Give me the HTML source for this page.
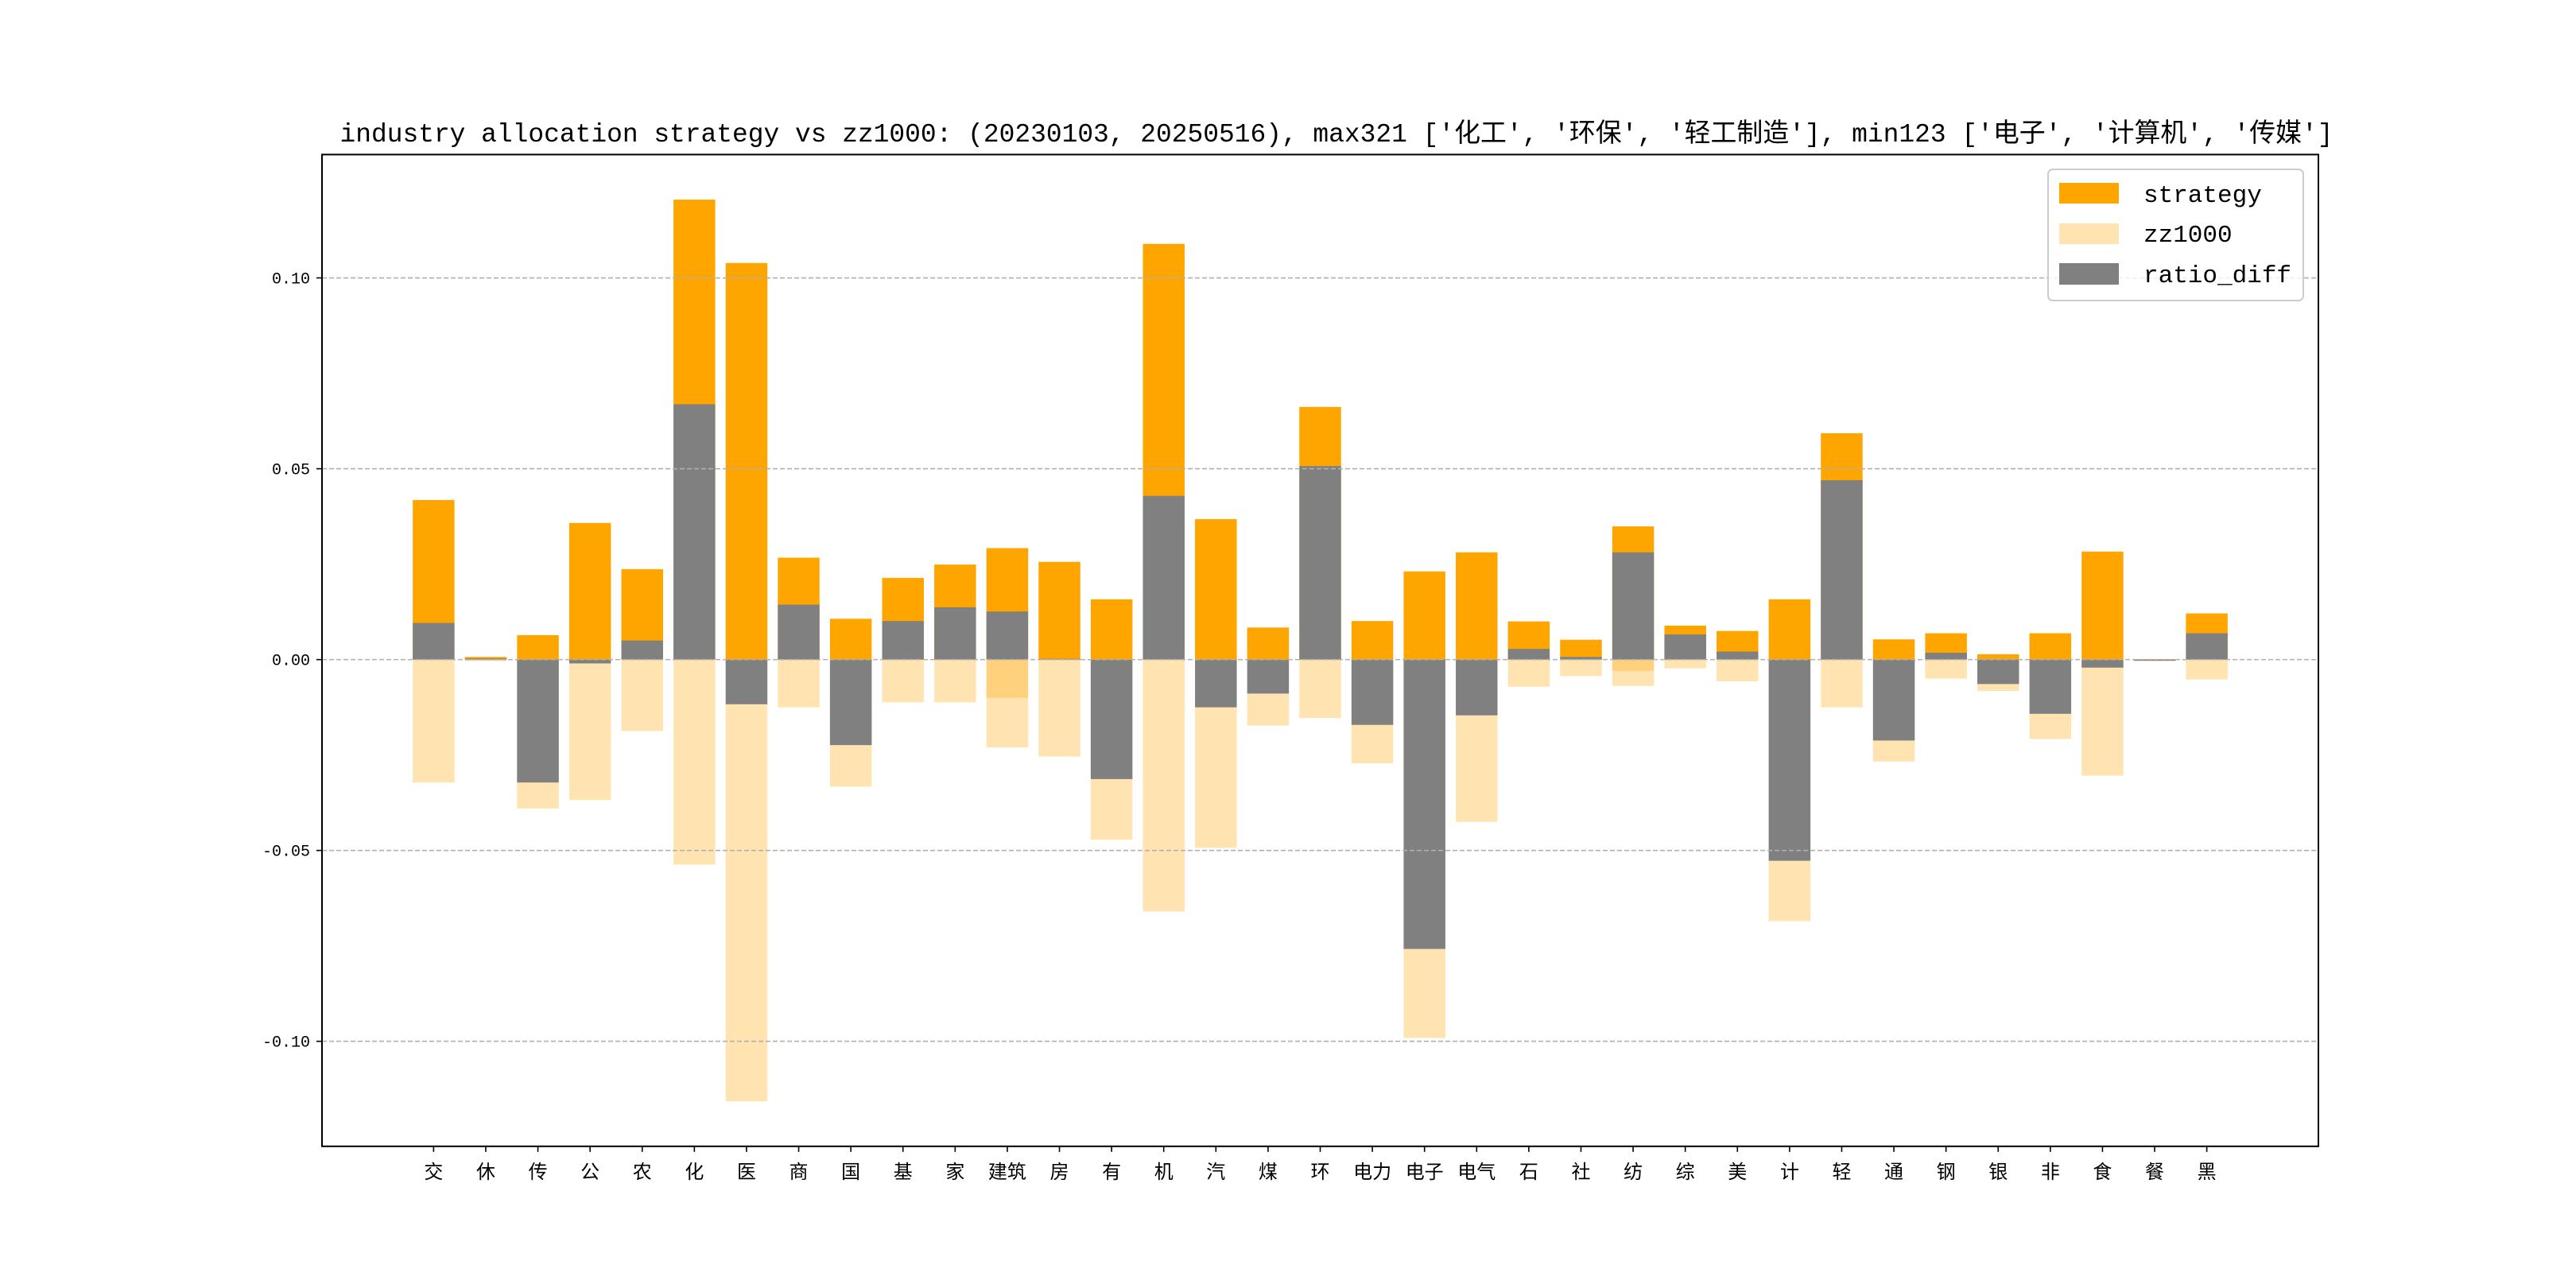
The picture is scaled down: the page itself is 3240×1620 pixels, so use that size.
<!DOCTYPE html>
<html><head><meta charset="utf-8"><style>
html,body{margin:0;padding:0;background:#fff;}
svg{display:block;}
</style></head><body>
<svg id="chart" width="3240" height="1620" viewBox="0 0 3240 1620" xmlns="http://www.w3.org/2000/svg">
<rect x="0" y="0" width="3240" height="1620" fill="#fff"/>
<text x="1681" y="178" text-anchor="middle" font-family="'Liberation Mono','Noto Sans CJK SC',monospace" font-size="33" textLength="2507" lengthAdjust="spacingAndGlyphs" fill="#000">industry allocation strategy vs zz1000: (20230103, 20250516), max321 ['化工', '环保', '轻工制造'], min123 ['电子', '计算机', '传媒']</text>
<g id="grid"></g>
<g id="bars"></g>
<g id="gridTop"></g>
<rect x="405" y="194.4" width="2511" height="1247.4" fill="none" stroke="#000" stroke-width="2"/>
<g id="axes"></g>
<g>
<rect x="2576" y="213" width="321" height="165" rx="6" fill="#fff" fill-opacity="0.8" stroke="#ccc" stroke-width="2"/>
<rect x="2590" y="230" width="75" height="26" fill="#FFA500"/>
<text x="2696" y="254" font-family="'Liberation Mono',monospace" font-size="31" fill="#000">strategy</text>
<rect x="2590" y="281" width="75" height="26" fill="#FFA500" fill-opacity="0.3"/>
<text x="2696" y="304" font-family="'Liberation Mono',monospace" font-size="31" fill="#000">zz1000</text>
<rect x="2590" y="331" width="75" height="27" fill="#808080"/>
<text x="2696" y="355" font-family="'Liberation Mono',monospace" font-size="31" fill="#000">ratio_diff</text>
</g>
</svg>
<script>
const categories = ["交","休","传","公","农","化","医","商","国","基","家","建筑","房","有","机","汽","煤","环","电力","电子","电气","石","社","纺","综","美","计","轻","通","钢","银","非","食","餐","黑"];
const strategy = [0.0418,0.0007,0.0064,0.0358,0.0237,0.1205,0.1039,0.0267,0.0107,0.0214,0.0249,0.0292,0.0256,0.0158,0.1089,0.0368,0.0084,0.0662,0.0101,0.0231,0.0281,0.0100,0.0052,0.0349,0.0089,0.0075,0.0158,0.0593,0.0053,0.0069,0.0014,0.0069,0.0283,0.0001,0.0121];
const zz1000 = [0.0322,0.0004,0.0390,0.0368,0.0187,0.0537,0.1157,0.0125,0.0333,0.0112,0.0112,0.0230,0.0254,0.0472,0.0660,0.0493,0.0173,0.0153,0.0272,0.0991,0.0425,0.0071,0.0043,0.0069,0.0023,0.0057,0.0685,0.0125,0.0267,0.0050,0.0082,0.0208,0.0304,0.0004,0.0052];
const zz1000Overlap = [0,0,0,0,0,0,0,0,0,0,0,0.0100,0,0,0,0,0,0,0,0,0,0,0,0.0030,0,0,0,0,0,0,0,0,0,0,0];
const ratioDiff = [0.0096,0.0003,-0.0322,-0.0010,0.0050,0.0669,-0.0117,0.0144,-0.0224,0.0101,0.0137,0.0126,0.0002,-0.0313,0.0429,-0.0125,-0.0089,0.0507,-0.0171,-0.0758,-0.0146,0.0028,0.0007,0.0281,0.0066,0.0021,-0.0527,0.0470,-0.0212,0.0018,-0.0064,-0.0142,-0.0021,-0.0003,0.0069];
const yTicks = [-0.10,-0.05,0.00,0.05,0.10];
const yTickLabels = ["-0.10","-0.05","0.00","0.05","0.10"];

const NS="http://www.w3.org/2000/svg";
const L=405,R=2916,T=194.4,B=1441.8;
const n=categories.length;
const bw=0.8;
const xmin=-bw/2-(n-1+bw)*0.05, xmax=n-1+bw/2+(n-1+bw)*0.05;
let dmax=Math.max(...strategy,...ratioDiff), dmin=Math.min(...zz1000.map(v=>-v),...ratioDiff);
const ymax=dmax+(dmax-dmin)*0.05, ymin=dmin-(dmax-dmin)*0.05;
function xs(v){return L+(v-xmin)/(xmax-xmin)*(R-L);}
function ys(v){return T+(ymax-v)/(ymax-ymin)*(B-T);}
function mk(tag,attrs,parent){const e=document.createElementNS(NS,tag);for(const k in attrs)e.setAttribute(k,attrs[k]);parent.appendChild(e);return e;}
const bars=document.getElementById('bars');
function bar(i,v,fill,op,name){
  const x0=xs(i-bw/2),x1=xs(i+bw/2);
  const y0=ys(Math.max(v,0)),y1=ys(Math.min(v,0));
  const r=mk('rect',{x:x0,y:y0,width:x1-x0,height:Math.max(y1-y0,0.5),fill:fill,'fill-opacity':op},bars);
  
  
}
for(let i=0;i<n;i++) bar(i,strategy[i],'#FFA500',1,'bar-strategy-'+i);
for(let i=0;i<n;i++) bar(i,-zz1000[i],'#FFA500',0.3,'bar-zz1000-'+i);
for(let i=0;i<n;i++) if(zz1000Overlap[i]) bar(i,-zz1000Overlap[i],'#FFA500',0.3,'bar-zz1000-overlap-'+i);
for(let i=0;i<n;i++) bar(i,ratioDiff[i],'#808080',1,'bar-ratio-diff-'+i);
const g=document.getElementById('gridTop'), ax=document.getElementById('axes');
yTicks.forEach((t,k)=>{
  const y=ys(t);
  const gl=mk('line',{x1:L,x2:R,y1:y,y2:y,stroke:'#b0b0b0','stroke-width':1.6,'stroke-dasharray':'6,3'},g);
  
  
  const tk=mk('line',{x1:L-7,x2:L,y1:y,y2:y,stroke:'#000','stroke-width':1.6},ax);
  
  
  const tx=mk('text',{x:L-15,y:y+7,'text-anchor':'end','font-family':"'Liberation Mono',monospace",'font-size':20,fill:'#000'},ax);
  tx.textContent=yTickLabels[k];
  
  
});
categories.forEach((c,i)=>{
  const x=xs(i);
  const tk=mk('line',{x1:x,x2:x,y1:B,y2:B+7,stroke:'#000','stroke-width':1.6},ax);
  
  
  const tx=mk('text',{x:x,y:B+40,'text-anchor':'middle','font-family':"'Liberation Sans','Noto Sans CJK SC',sans-serif",'font-size':24,fill:'#000'},ax);
  tx.textContent=c;
  
  
});
</script>
</body></html>
